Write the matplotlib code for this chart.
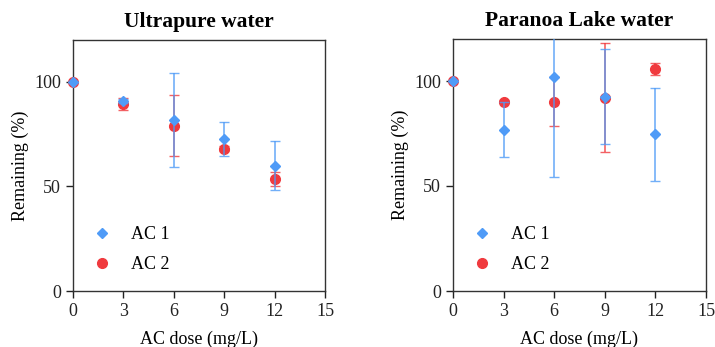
import matplotlib.pyplot as plt
from matplotlib.lines import Line2D

plt.rcParams['font.family'] = ['Liberation Serif', 'DejaVu Serif']

dose = [0, 3, 6, 9, 12]

# Ultrapure water
up_ac1 = [100, 91.0, 81.8, 72.6, 60.0]
up_ac1_err = [0, 1.0, 22.3, 8.2, 11.5]
up_ac2 = [100, 89.3, 79.1, 68.1, 53.4]
up_ac2_err = [0, 2.8, 14.6, 1.0, 3.4]

# Paranoa Lake water
pl_ac1 = [100, 76.9, 102.1, 92.5, 74.7]
pl_ac1_err = [0, 13.1, 47.8, 22.6, 22.2]
pl_ac2 = [100, 90.1, 90.1, 92.0, 105.7]
pl_ac2_err = [0, 0.8, 11.6, 26.0, 2.9]

blue = '#4f9bf7'
red = '#f03a3e'

fig = plt.figure(figsize=(7.15, 3.47), dpi=100)
ax1 = fig.add_axes([73/715, 1-291/347, 252/715, 251/347])
ax2 = fig.add_axes([453/715, 1-291/347, 253/715, 252/347])

panels = [
    (ax1, 'Ultrapure water', up_ac1, up_ac1_err, up_ac2, up_ac2_err),
    (ax2, 'Paranoa Lake water', pl_ac1, pl_ac1_err, pl_ac2, pl_ac2_err),
]

for ax, title, a1, e1, a2, e2 in panels:
    for y, err, fmt, col, ms, z in [(a2, e2, 'o', red, 7, 3), (a1, e1, 'D', blue, 5.5, 4)]:
        cont = ax.errorbar(dose, y, yerr=err, fmt=fmt, color=col, ms=ms, ecolor=col,
                           elinewidth=1.2, capsize=3.5, zorder=z)
        cont[0].set_clip_on(False)
        for c in cont[1]:
            c.set_alpha(0.8)
        for c in cont[2]:
            c.set_alpha(0.8)
    ax.set_xlim(0, 15)
    ax.set_ylim(0, 120)
    ax.set_xticks([0, 3, 6, 9, 12, 15])
    ax.set_yticks([0, 50, 100])
    ax.tick_params(direction='out', length=5, width=1, labelsize=13, colors='#222222')
    for s in ax.spines.values():
        s.set_color('#333333')
        s.set_linewidth(1)
    ax.set_title(title, fontsize=15.5, fontweight='bold', pad=9)
    ax.set_xlabel('AC dose (mg/L)', fontsize=13, labelpad=8)
    ax.set_ylabel('Remaining (%)', fontsize=13, labelpad=4)
    handles = [Line2D([], [], ls='none', marker='D', color=blue, ms=5.5),
               Line2D([], [], ls='none', marker='o', color=red, ms=7)]
    ax.legend(handles, ['AC 1', 'AC 2'], loc='lower left', bbox_to_anchor=(0.016, 0.005),
              frameon=False, fontsize=13, handlelength=1.0, handletextpad=1.07,
              labelspacing=0.72)

fig.savefig('out.png', dpi=100)
